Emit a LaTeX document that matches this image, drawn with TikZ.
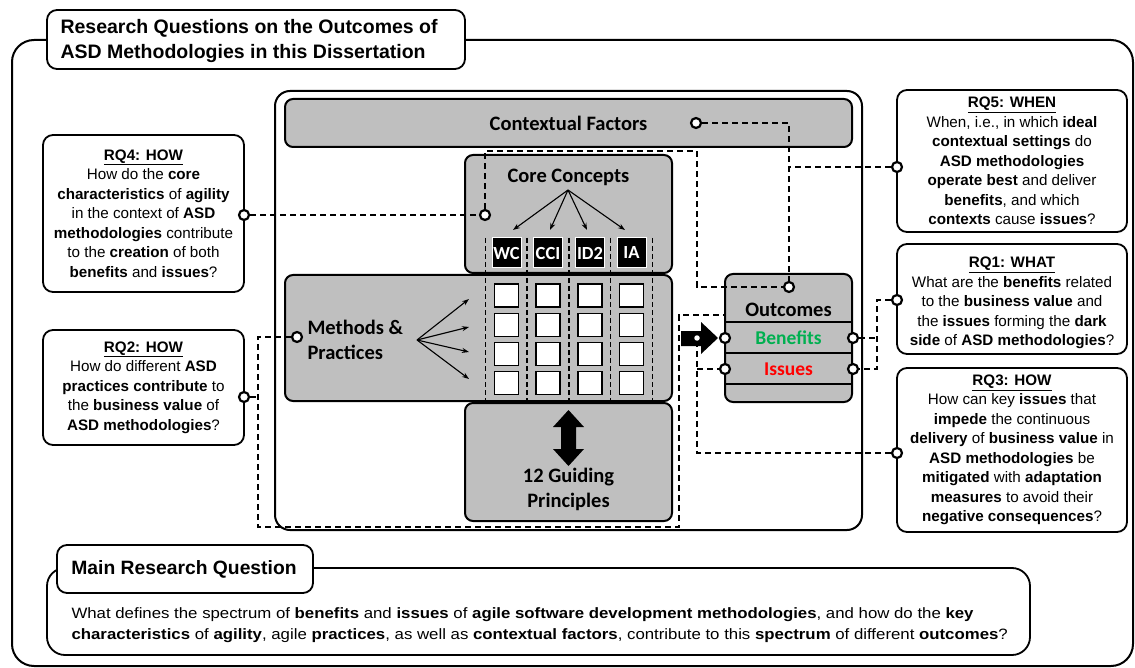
\documentclass[tikz,border=0pt]{standalone}
\usepackage{fontspec}
\setmainfont{Liberation Sans}
\newfontfamily\calib{Carlito}
\newfontfamily\widesans[FakeStretch=1.12]{Liberation Sans}
\usetikzlibrary{arrows.meta}
\definecolor{boxgray}{RGB}{191,191,191}
\definecolor{bengreen}{RGB}{0,176,80}
\definecolor{issred}{RGB}{255,0,0}
\begin{document}
\begin{tikzpicture}[x=1pt,y=-1pt,
  frame/.style={draw=black, line width=2pt, rounded corners=22pt, fill=white, inner sep=0pt},
  graybox/.style={draw=black, line width=2pt, rounded corners=8pt, fill=boxgray, inner sep=0pt},
  rqbox/.style={draw=black, line width=1.8pt, rounded corners=10pt, fill=white, align=center, inner sep=0pt, font=\fontsize{15.2}{19.5}\selectfont},
  titlebox/.style={draw=black, line width=1.8pt, rounded corners=10pt, fill=white, inner sep=0pt},
  dot/.style={circle, draw=black, fill=white, line width=2.2pt, minimum size=10pt, inner sep=0pt},
  conn/.style={draw=black, line width=1.5pt, dash pattern=on 6pt off 4pt},
  coldash/.style={draw=black, line width=1.1pt, dash pattern=on 5pt off 3pt},
  cbig/.style={font=\calib\bfseries\fontsize{20.5}{25}\selectfont},
  lab/.style={fill=black, draw=white, line width=1pt, text=white, minimum width=29pt, minimum height=30pt, inner sep=0pt, font=\calib\bfseries\fontsize{18.5}{20}\selectfont},
  cell/.style={fill=white, draw=black, line width=1.6pt, minimum width=24pt, minimum height=23pt, inner sep=0pt},
  tip/.style={-{Stealth[length=7pt,width=5pt]}, line width=1.1pt},
]
\useasboundingbox (0,0) rectangle (1135,668);
% outer frame and title
\node[frame, minimum width=1121pt, minimum height=626pt] (outer) at (572.5,353) {};
\node[titlebox, minimum width=418pt, minimum height=59pt] (title) at (256,39.5) {};
\node[anchor=west, align=left, font=\bfseries\fontsize{19.5}{25}\selectfont] (titletxt) at (57,41) {Research Questions on the Outcomes of\\ASD Methodologies in this Dissertation};
% inner frame
\node[draw=black, line width=2pt, rounded corners=15pt, fill=white, minimum width=587pt, minimum height=439pt, inner sep=0pt] (inner) at (568.5,310.5) {};
% gray boxes
\node[graybox, minimum width=567pt, minimum height=48pt] (cf) at (568.5,123) {};
\node[graybox, minimum width=207pt, minimum height=118pt] (cc) at (568.5,214) {};
\node[graybox, minimum width=387pt, minimum height=126pt] (mp) at (478.5,338) {};
\node[graybox, minimum width=207pt, minimum height=118pt] (gp) at (568.5,462) {};
\node[graybox, minimum width=127pt, minimum height=128pt] (out) at (788.5,338) {};
\draw[line width=2pt] (725,322) -- (852,322) (725,353) -- (852,353) (725,384) -- (852,384);
% texts in gray boxes
\node[cbig] (cftxt) at (568.5,123) {Contextual Factors};
\node[cbig] (cctxt) at (568.5,177) {Core Concepts};
\node[cbig, anchor=west, align=left] (mptxt) at (304,339.5) {Methods \&\\Practices};
\node[cbig, align=center] (gptxt) at (568.5,489.5) {12 Guiding\\Principles};
\node[cbig] (outtxt) at (788.5,310) {Outcomes};
\node[font=\calib\bfseries\fontsize{19.5}{22}\selectfont, text=bengreen] (bentxt) at (788.5,338) {Benefits};
\node[font=\calib\bfseries\fontsize{19.5}{22}\selectfont, text=issred] (isstxt) at (788.5,369) {Issues};
% column dashed lines
\foreach \cx in {485.5,527,569,610.6,652.7} {\draw[coldash] (\cx,238) -- (\cx,400);}
% concept labels
\node[lab] (wc) at (506.5,253) {WC};
\node[lab] (cci) at (548,253) {CCI};
\node[lab] (id2) at (590,253) {ID2};
\node[lab] (ia) at (631.5,253) {IA};
% grid
\foreach \cx [count=\i] in {506.5,548,590,631.5} {
  \foreach \cy [count=\j] in {295.5,325,354,383} {
    \node[cell] (g\i\j) at (\cx,\cy) {};
  }
}
% arrows in core concepts
\coordinate (ccsrc) at (568,190);
\foreach \tx in {513,550,587,625} {\draw[tip] (ccsrc) -- (\tx,230);}
% arrows in methods
\coordinate (mpsrc) at (417,340);
\foreach \ty in {299,327,352,379} {\draw[tip] (mpsrc) -- (469,\ty);}
% double arrow
\fill[black] (568.5,410) -- (584,427) -- (576,427) -- (576,449) -- (584,449) -- (568.5,466) -- (553,449) -- (561,449) -- (561,427) -- (553,427) -- cycle;
% big black arrow
\fill[black] (681,331) -- (701,331) -- (701,322) -- (718,338) -- (701,354) -- (701,346) -- (681,346) -- cycle;
% RQ boxes
\node[rqbox, minimum width=201pt, minimum height=157pt] (rq4) at (143.5,213.5) {\underline{\textbf{RQ4: HOW}}\\How do the \textbf{core}\\\textbf{characteristics} of \textbf{agility}\\in the context of \textbf{ASD}\\\textbf{methodologies} contribute\\to the \textbf{creation} of both\\\textbf{benefits} and \textbf{issues}?};
\node[rqbox, minimum width=201pt, minimum height=115pt] (rq2) at (143.5,387.5) {\underline{\textbf{RQ2: HOW}}\\How do different \textbf{ASD}\\\textbf{practices contribute} to\\the \textbf{business value} of\\\textbf{ASD methodologies}?};
\node[rqbox, minimum width=230pt, minimum height=142pt] (rq5) at (1012,161) {\underline{\textbf{RQ5: WHEN}}\\When, i.e., in which \textbf{ideal}\\\textbf{contextual settings} do\\\textbf{ASD methodologies}\\\textbf{operate best} and deliver\\\textbf{benefits}, and which\\\textbf{contexts} cause \textbf{issues}?};
\node[rqbox, minimum width=230pt, minimum height=110pt] (rq1) at (1012,299) {};
\node[align=center, font=\fontsize{15.2}{19.5}\selectfont] (rq1txt) at (1012,303) {\underline{\textbf{RQ1: WHAT}}\\What are the \textbf{benefits} related\\to the \textbf{business value} and\\the \textbf{issues} forming the \textbf{dark}\\\textbf{side} of \textbf{ASD methodologies}?};
\node[rqbox, minimum width=230pt, minimum height=164pt] (rq3) at (1012,450) {\underline{\textbf{RQ3: HOW}}\\How can key \textbf{issues} that\\\textbf{impede} the continuous\\\textbf{delivery} of \textbf{business value} in\\\textbf{ASD methodologies} be\\\textbf{mitigated} with \textbf{adaptation}\\\textbf{measures} to avoid their\\\textbf{negative consequences}?};
% main research question
\node[draw=black, line width=1.8pt, rounded corners=18pt, fill=white, minimum width=983pt, minimum height=87pt, inner sep=0pt] (mainq) at (538.5,611.5) {};
\node[titlebox, minimum width=256pt, minimum height=48pt] (mainqtitle) at (185,569) {};
\node[font=\bfseries\fontsize{19.3}{22}\selectfont] (mainqtitletxt) at (184,569) {Main Research Question};
\node[anchor=west, align=left, font=\widesans\fontsize{15}{20.5}\selectfont] (mainqtxt) at (68,625) {What defines the spectrum of \textbf{benefits} and \textbf{issues} of \textbf{agile software development methodologies}, and how do the \textbf{key}\\\textbf{characteristics} of \textbf{agility}, agile \textbf{practices}, as well as \textbf{contextual factors}, contribute to this \textbf{spectrum} of different \textbf{outcomes}?};
% dots
\node[dot] (cfdot) at (696,123) {};
\node[dot] (outtop) at (789,287) {};
\node[dot] (rq5dot) at (897,167) {};
\node[dot] (rq4dot) at (244,215) {};
\node[dot] (ccdot) at (485,215) {};
\node[dot] (mpdot) at (297,337) {};
\node[dot] (rq2dot) at (244,397) {};
\node[dot] (benL) at (725,338) {};
\node[dot] (issL) at (725,369) {};
\node[dot] (benR) at (853,338) {};
\node[dot] (issR) at (853,369) {};
\node[dot] (rq1dot) at (897,300) {};
\node[dot] (rq3dot) at (897,453) {};
\node[circle, fill=white, minimum size=5.5pt, inner sep=0pt] (arrdot) at (697,338) {};
% connectors
\coordinate (j5) at (789,167);
\coordinate (c1) at (697,151);
\coordinate (m1) at (258,527);
\coordinate (m2) at (679,315);
\coordinate (r1) at (877,300);
\draw[conn] (cfdot) -| (outtop);
\draw[conn] (rq5dot) -- (j5);
\draw[conn] (rq4dot) -- (ccdot);
\draw[conn] (ccdot) |- (c1) |- (outtop);
\draw[conn] (mpdot) -| (m1) -| (m2) -| (benL);
\draw[conn] (rq2dot) -- (rq2dot -| m1);
\draw[conn] (arrdot) |- (rq3dot);
\draw[conn] (arrdot |- issL) -- (issL);
\draw[conn] (rq1dot) -- (r1) |- (issR);
\draw[conn] (benR) -- (benR -| r1);
\end{tikzpicture}
\end{document}
